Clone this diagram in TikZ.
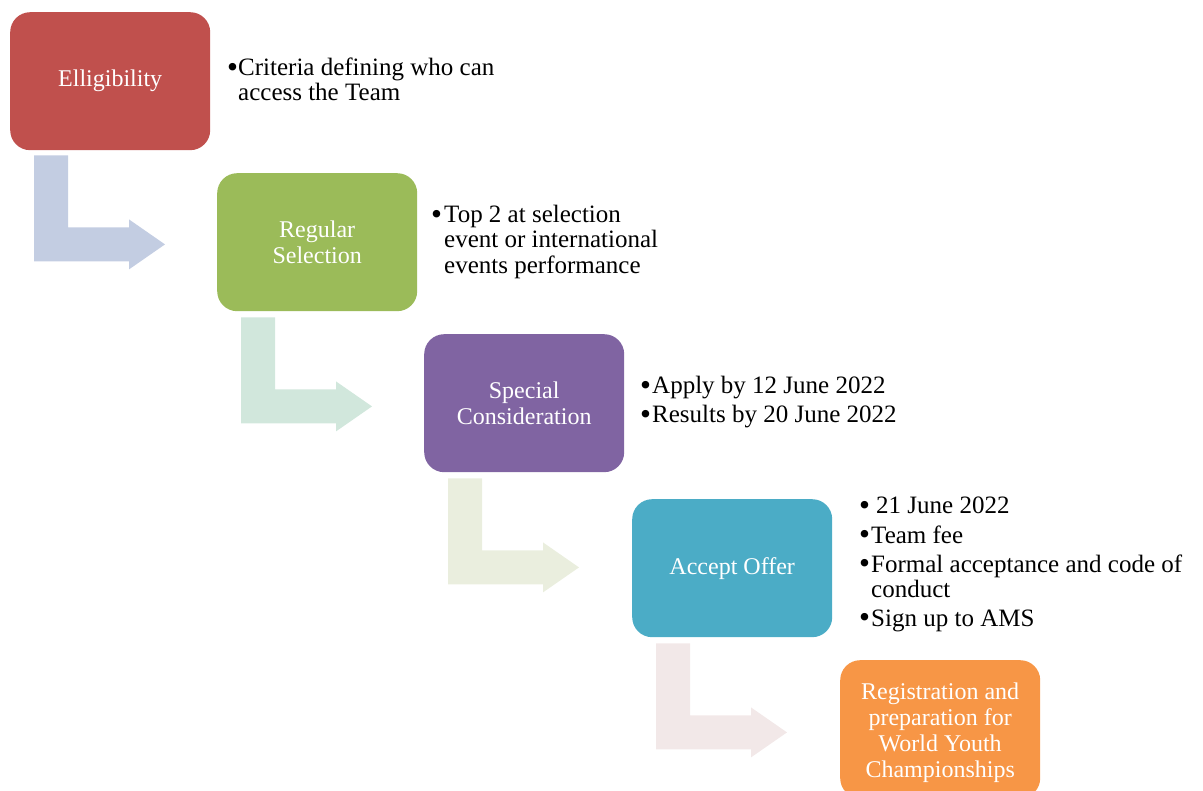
\documentclass[tikz,border=0pt]{standalone}
\usepackage{fontspec}
\setmainfont{Liberation Serif}
\definecolor{cRed}{HTML}{C0504D}
\definecolor{cGreen}{HTML}{9BBB59}
\definecolor{cPurple}{HTML}{8064A2}
\definecolor{cTeal}{HTML}{4BACC6}
\definecolor{cOrange}{HTML}{F79646}
\definecolor{aOne}{HTML}{C3CDE2}
\definecolor{aTwo}{HTML}{D1E7DC}
\definecolor{aThree}{HTML}{EAEEDE}
\definecolor{aFour}{HTML}{F2E8E8}
\newcommand{\bigdot}{\makebox[10pt][l]{\raisebox{-1.2pt}{\scalebox{1.25}{\textbullet}}}}
\begin{document}
\begin{tikzpicture}[x=1pt,y=-1pt,
  stage/.style={rounded corners=20pt, minimum width=200pt, minimum height=138pt,
    inner sep=0pt, text=white, align=center, font=\fontsize{24}{26}\selectfont,
    anchor=north west},
  note/.style={anchor=base west, inner sep=0pt, font=\fontsize{25}{25}\selectfont},
  bent/.pic={\fill[pic actions] (0,0) -- (34,0) -- (34,72) -- (95,72) -- (95,64)
    -- (131,89) -- (95,114) -- (95,106) -- (0,106) -- cycle;}
]
\useasboundingbox (0,0) rectangle (1203,791);
% stages
\node[stage, fill=cRed] (b1) at (10,12) {Elligibility};
\node[stage, fill=cGreen] (b2) at (217,173) {Regular\\Selection};
\node[stage, fill=cPurple] (b3) at (424,334) {Special\\Consideration};
\node[stage, fill=cTeal] (b4) at (632,499) {Accept Offer};
\node[stage, fill=cOrange] (b5) at (840,660) {\\[-2pt]Registration and\\preparation for\\World Youth\\Championships};
% bent arrows
\pic[fill=aOne] at ([xshift=24pt,yshift=-5pt]b1.south west) {bent};
\pic[fill=aTwo] at ([xshift=24pt,yshift=-6pt]b2.south west) {bent};
\pic[fill=aThree] at ([xshift=24pt,yshift=-6pt]b3.south west) {bent};
\pic[fill=aFour] at ([xshift=24pt,yshift=-6pt]b4.south west) {bent};
% notes
\node[note] (t1) at (227,76) {\begin{tabular}[t]{@{}l@{\hspace{1pt}}l@{}}\bigdot&Criteria defining who can\\&access the Team\end{tabular}};
\node[note] (t2) at (431,223) {\begin{tabular}[t]{@{}l@{\hspace{3pt}}l@{}}\bigdot&Top 2 at selection\\&event or international\\&events performance\end{tabular}};
\node[note] (t3) at (640,394) {\begin{tabular}[t]{@{}l@{\hspace{2pt}}l@{}}\bigdot&Apply by 12 June 2022\\[4pt]\bigdot&Results by 20 June 2022\end{tabular}};
\node[note] (t4) at (859,514) {\begin{tabular}[t]{@{}l@{\hspace{2pt}}l@{}}\bigdot&\hspace{5pt}21 June 2022\\[4pt]\bigdot&Team fee\\[4pt]\bigdot&Formal acceptance and code of\\&conduct\\[4pt]\bigdot&Sign up to AMS\end{tabular}};
\end{tikzpicture}
\end{document}
